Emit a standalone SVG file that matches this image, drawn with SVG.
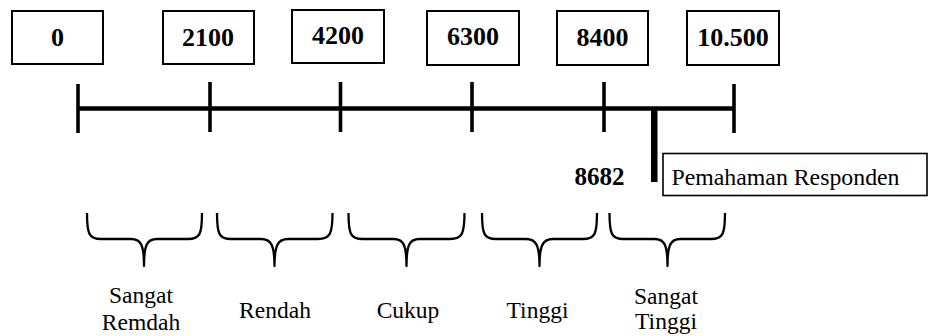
<svg xmlns="http://www.w3.org/2000/svg" width="930" height="336" viewBox="0 0 930 336">
  <style>
    .box { fill: #ffffff; stroke: #000000; stroke-width: 2; }
    .num { font-family: "Liberation Serif", "Times New Roman", serif; font-weight: bold; font-size: 26px; text-anchor: middle; fill: #000000; }
    .lbl { font-family: "Liberation Serif", "Times New Roman", serif; font-size: 23.5px; text-anchor: middle; fill: #000000; }
    .axis { stroke: #000000; stroke-width: 4.5; fill: none; }
    .tick { stroke: #000000; stroke-width: 3.6; fill: none; }
    .brace { stroke: #000000; stroke-width: 2.3; fill: none; stroke-linejoin: round; }
  </style>

  <!-- scale value boxes -->
  <g id="node-0">
    <rect class="box" x="12" y="11" width="91" height="53"/>
    <text class="num" x="57.5" y="45.5">0</text>
  </g>
  <g id="node-2100">
    <rect class="box" x="163" y="11" width="91" height="53"/>
    <text class="num" x="208" y="45.5">2100</text>
  </g>
  <g id="node-4200">
    <rect class="box" x="292" y="10" width="92" height="53"/>
    <text class="num" x="338" y="44">4200</text>
  </g>
  <g id="node-6300">
    <rect class="box" x="427" y="11" width="92" height="54"/>
    <text class="num" x="473" y="45">6300</text>
  </g>
  <g id="node-8400">
    <rect class="box" x="557" y="11" width="91" height="54"/>
    <text class="num" x="602.5" y="45.5">8400</text>
  </g>
  <g id="node-10500">
    <rect class="box" x="687" y="11" width="92" height="54"/>
    <text class="num" x="733" y="45.5">10.500</text>
  </g>

  <!-- number line with ticks and the score marker -->
  <g id="connectors">
    <line class="axis" x1="78" y1="108.5" x2="734" y2="108.5"/>
    <line class="tick" x1="78" y1="84" x2="78" y2="133"/>
    <line class="tick" x1="210" y1="82" x2="210" y2="132"/>
    <line class="tick" x1="340.5" y1="82" x2="340.5" y2="132"/>
    <line class="tick" x1="472" y1="82" x2="472" y2="132"/>
    <line class="tick" x1="604" y1="82" x2="604" y2="132"/>
    <line class="tick" x1="734" y1="84" x2="734" y2="133"/>
    <rect x="651" y="108" width="6.5" height="74" fill="#000000"/>
  </g>

  <!-- respondent score -->
  <g id="node-score">
    <text class="num" x="599.5" y="185" style="font-size:25px">8682</text>
  </g>
  <g id="node-respondent">
    <rect class="box" x="663" y="153.5" width="264" height="42" style="stroke-width:1.6"/>
    <text class="lbl" x="671.5" y="185" style="text-anchor:start;font-size:23.8px">Pemahaman Responden</text>
  </g>

  <!-- category braces and labels -->
  <g id="node-sangat-rendah">
    <path class="brace" d="M87 213 C87 234 89 239 101 239 L131 239 C141 239 144 245 144 266 C144 245 147 239 157 239 L188 239 C200 239 202 234 202 213"/>
    <text class="lbl" x="141" y="303">Sangat</text>
    <text class="lbl" x="141" y="329.5">Remdah</text>
  </g>
  <g id="node-rendah">
    <path class="brace" d="M217 213 C217 234 219 239 231 239 L261 239 C271 239 274.5 245 274.5 266 C274.5 245 278 239 288 239 L318 239 C330 239 332.5 234 332.5 213"/>
    <text class="lbl" x="275" y="318">Rendah</text>
  </g>
  <g id="node-cukup">
    <path class="brace" d="M348.5 213 C348.5 234 350.5 239 362.5 239 L393.5 239 C403.5 239 406.5 245 406.5 266 C406.5 245 409.5 239 419.5 239 L450 239 C462 239 464.5 234 464.5 213"/>
    <text class="lbl" x="408" y="318">Cukup</text>
  </g>
  <g id="node-tinggi">
    <path class="brace" d="M482 213 C482 234 484 239 496 239 L526 239 C536 239 539.5 245 539.5 266 C539.5 245 543 239 553 239 L583 239 C595 239 597 234 597 213"/>
    <text class="lbl" x="537.5" y="318">Tinggi</text>
  </g>
  <g id="node-sangat-tinggi">
    <path class="brace" d="M609.5 213 C609.5 234 611.5 239 623.5 239 L654.5 239 C664.5 239 667.5 245 667.5 266 C667.5 245 670.5 239 680.5 239 L711 239 C723 239 725 234 725 213"/>
    <text class="lbl" x="666" y="303.5">Sangat</text>
    <text class="lbl" x="666" y="328.5">Tinggi</text>
  </g>
</svg>
